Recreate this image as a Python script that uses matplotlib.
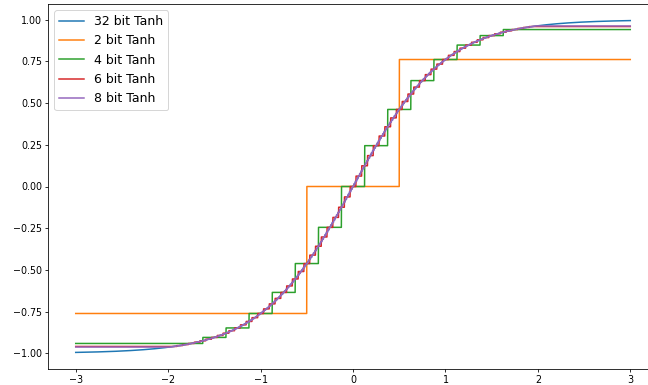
import numpy as np
import matplotlib
matplotlib.use("Agg")
import matplotlib.pyplot as plt

# x range of the plot and the quantisation settings of each series
x_min, x_max = -3.0, 3.0
labels = ["32 bit Tanh", "2 bit Tanh", "4 bit Tanh", "6 bit Tanh", "8 bit Tanh"]
steps = [None, 1.0, 0.25, 1 / 16, 1 / 64]      # input step of the quantised tanh
clips = [None, 1.0, 1.75, 2 - 1 / 16, 2 - 1 / 64]  # symmetric input clip
x_ticks = [-3, -2, -1, 0, 1, 2, 3]
y_ticks = [-1.00, -0.75, -0.50, -0.25, 0.00, 0.25, 0.50, 0.75, 1.00]

x = np.linspace(x_min, x_max, 6001)

# 72 dpi so that 1pt == 1px
fig = plt.figure(figsize=(648 / 72, 385 / 72), dpi=72)
ax = fig.add_axes([48 / 648, 16 / 385, 610 / 648, 365 / 385])

for label, step, clip in zip(labels, steps, clips):
    if step is None:
        y = np.tanh(x)
    else:
        xq = np.clip(np.round(x / step) * step, -clip, clip)
        y = np.tanh(xq)
    ax.plot(x, y, label=label, linewidth=1.5)

ax.set_xticks(x_ticks)
ax.set_yticks(y_ticks)
ax.set_xticklabels([str(t).replace("-", "\u2212") for t in x_ticks])
ax.set_yticklabels([("%.2f" % t).replace("-", "\u2212") for t in y_ticks])
ax.tick_params(labelsize=9.5, length=3, pad=3)
ax.legend(loc="upper left", fontsize=12.5)

plt.savefig("out.png", dpi=72)
